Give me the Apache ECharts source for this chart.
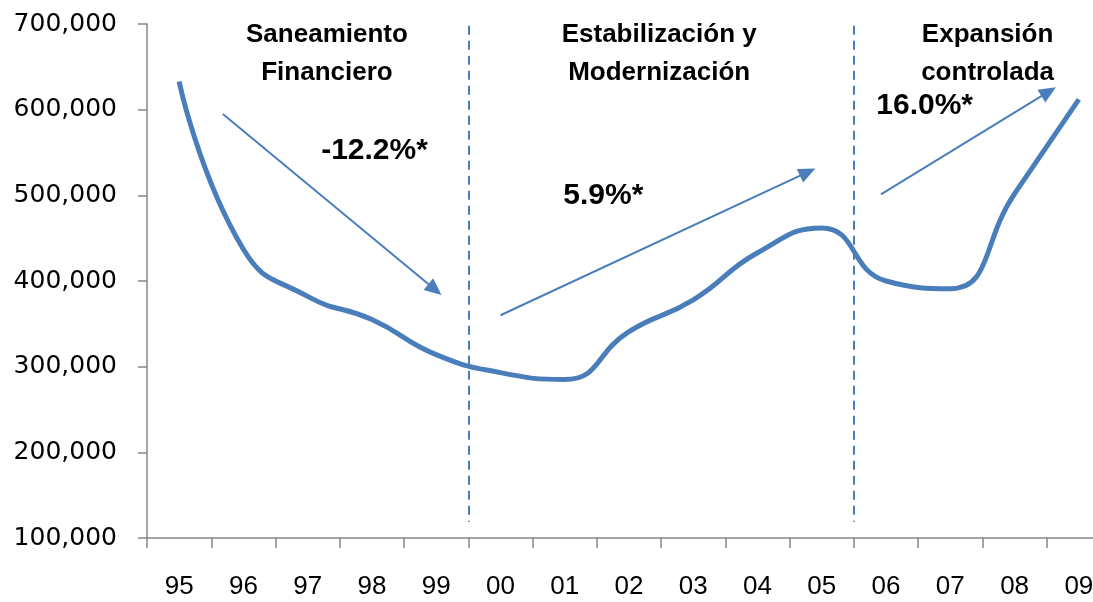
<!DOCTYPE html>
<html>
<head>
<meta charset="utf-8">
<script src="https://cdn.jsdelivr.net/npm/echarts@6/dist/echarts.min.js"></script>
<style>
  html, body { margin: 0; padding: 0; background: #fff; overflow: hidden; }
  /* the plot area runs past the right edge of the picture, as in the original */
  #chart { width: 1111px; height: 602px; }
</style>
</head>
<body>
<div id="chart"></div>
<script>
// años (eje x) y saldo de cartera
const years = ['95', '96', '97', '98', '99', '00', '01', '02', '03', '04', '05', '06', '07', '08', '09'];
const cartera = [633000, 437000, 382000, 355000, 314000, 293000, 285000, 341000, 378000, 433000, 462000, 400000, 391000, 502000, 612000];

const yMin = 100000;
const yMax = 700000;
const yStep = 100000;

// cortes entre etapas (entre 99/00 y 05/06), en índice de categoría
const periodBreaks = [4.5, 10.5];

// títulos de etapa: [x índice, valor, texto]
const periodTitles = [
  [2.3, 665000, 'Saneamiento\nFinanciero'],
  [7.47, 665000, 'Estabilización y\nModernización'],
  [12.58, 665000, 'Expansión\ncontrolada']
];

// tasas de crecimiento
const growthLabels = [
  [3.04, 552000, '-12.2%*'],
  [6.6, 500000, '5.9%*'],
  [11.6, 605000, '16.0%*']
];

// flechas de tendencia: [inicio, fin]
const trendArrows = [
  [[0.68, 595000], [3.98, 390000]],
  [[5.0, 360000], [9.78, 527000]],
  [[10.92, 501000], [13.53, 621000]]
];

const blue = '#4A7EBB';
const axisGray = '#868686';

const myChart = echarts.init(document.getElementById('chart'));

const option = {
  animation: false,
  grid: { left: 147, top: 24, right: 0, bottom: 64 },
  xAxis: [
    {
      type: 'category',
      data: years,
      boundaryGap: true,
      axisLine: { lineStyle: { color: axisGray, width: 1.5 } },
      axisTick: { show: true, length: 10, lineStyle: { color: axisGray, width: 1.5 } },
      axisLabel: { color: '#000', fontSize: 26, fontFamily: 'Liberation Sans', margin: 36 },
      splitLine: { show: false }
    },
    {
      type: 'value',
      min: -0.5,
      max: 14.5,
      show: false
    }
  ],
  yAxis: {
    type: 'value',
    min: yMin,
    max: yMax,
    interval: yStep,
    axisLine: { show: true, onZero: false, lineStyle: { color: axisGray, width: 1.5 } },
    axisTick: { show: true, length: 9, lineStyle: { color: axisGray, width: 1.5 } },
    axisLabel: {
      color: '#000',
      fontSize: 25,
      fontFamily: 'DejaVu Sans',
      margin: 30,
      formatter: v => v.toLocaleString('en-US')
    },
    splitLine: { show: false }
  },
  series: [
    {
      name: 'Cartera',
      type: 'line',
      data: cartera,
      smooth: 0.5,
      symbol: 'none',
      lineStyle: { color: blue, width: 5 },
      z: 5
    },
    {
      // textos de etapa y tasas, anclados a las coordenadas del gráfico
      type: 'scatter',
      xAxisIndex: 1,
      symbolSize: 1,
      itemStyle: { color: '#ffffff', opacity: 1 },
      silent: true,
      data: periodTitles.map(d => ({ value: [d[0], d[1]], name: d[2], label: { fontSize: 26, lineHeight: 38 } }))
        .concat(growthLabels.map(d => ({ value: [d[0], d[1]], name: d[2], label: { fontSize: 30 } }))),
      label: {
        show: true,
        position: 'inside',
        formatter: '{b}',
        color: '#000000',
        textBorderWidth: 0,
        fontWeight: 'bold',
        fontFamily: 'Liberation Sans',
        align: 'center',
        verticalAlign: 'middle'
      }
    },
    {
      type: 'line',
      xAxisIndex: 1,
      data: [],
      markLine: {
        silent: true,
        symbol: 'none',
        label: { show: false },
        lineStyle: { color: blue, width: 2, type: [9, 6] },
        data: periodBreaks.map(x => [{ coord: [x, 698000] }, { coord: [x, 119000] }])
      }
    },
    {
      type: 'line',
      xAxisIndex: 1,
      data: [],
      markLine: {
        silent: true,
        symbol: ['none', 'triangle'],
        symbolSize: [15, 17],
        label: { show: false },
        lineStyle: { color: blue, width: 2, type: 'solid' },
        data: trendArrows.map(a => [{ coord: a[0] }, { coord: a[1] }])
      }
    }
  ]
};

myChart.setOption(option);
</script>
</body>
</html>
